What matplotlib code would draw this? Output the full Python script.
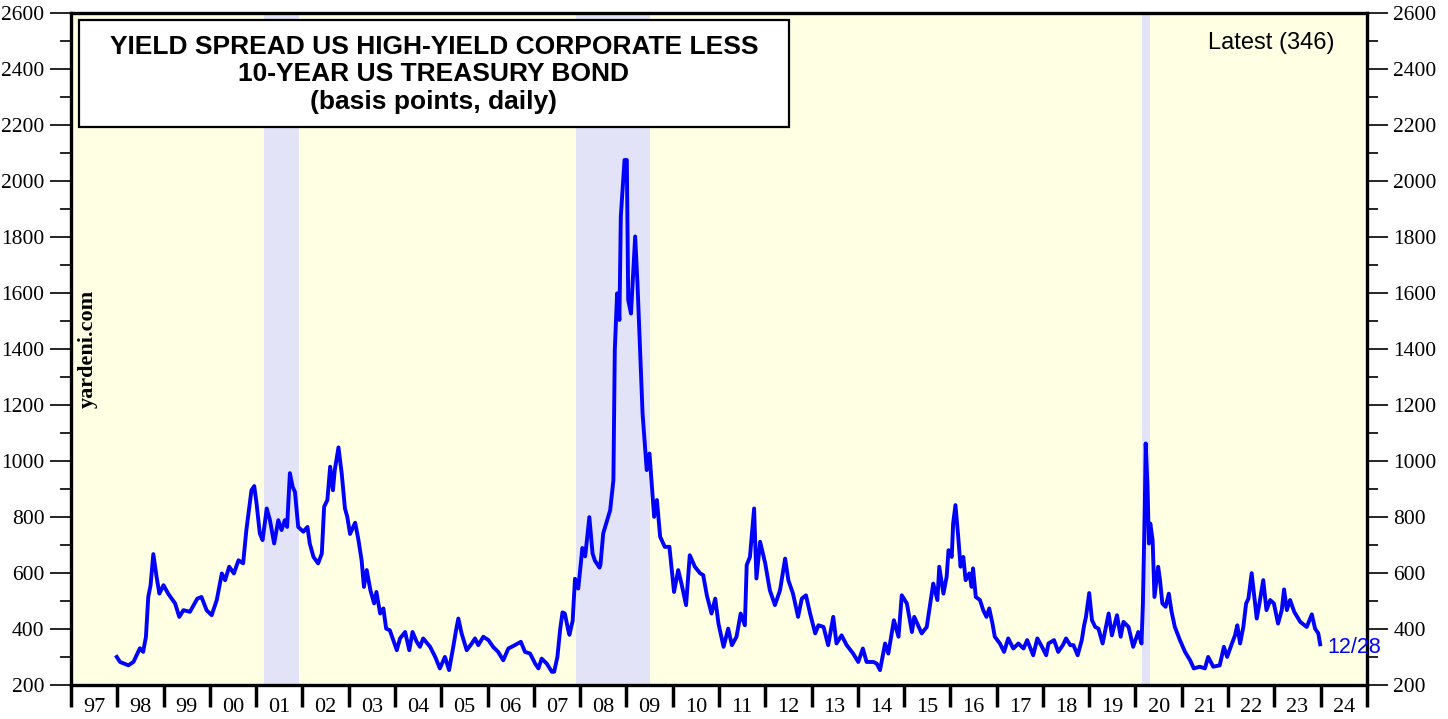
import numpy as np
import matplotlib
matplotlib.use("Agg")
import matplotlib.pyplot as plt
from matplotlib.patches import Rectangle
from matplotlib.ticker import MultipleLocator, FixedLocator, NullFormatter

# spread values (decimal year, basis points)
yrs = [
    1997.99, 1998.06, 1998.24, 1998.35, 1998.49, 1998.56, 1998.62, 1998.67, 1998.72, 1998.78,
    1998.85, 1998.91, 1999.00, 1999.10, 1999.25, 1999.34, 1999.43, 1999.57, 1999.73, 1999.82,
    1999.93, 2000.04, 2000.15, 2000.26, 2000.33, 2000.42, 2000.52, 2000.62, 2000.72, 2000.79,
    2000.90, 2000.96, 2001.01, 2001.08, 2001.14, 2001.23, 2001.30, 2001.39, 2001.48, 2001.55,
    2001.62, 2001.67, 2001.73, 2001.79, 2001.84, 2001.91, 2002.02, 2002.11, 2002.16, 2002.24,
    2002.34, 2002.42, 2002.47, 2002.54, 2002.60, 2002.66, 2002.70, 2002.78, 2002.85, 2002.92,
    2002.97, 2003.03, 2003.14, 2003.21, 2003.28, 2003.33, 2003.39, 2003.47, 2003.55, 2003.60,
    2003.68, 2003.75, 2003.81, 2003.89, 2004.04, 2004.11, 2004.22, 2004.31, 2004.38, 2004.47,
    2004.54, 2004.61, 2004.76, 2004.87, 2004.97, 2005.08, 2005.17, 2005.26, 2005.32, 2005.37,
    2005.44, 2005.55, 2005.66, 2005.73, 2005.80, 2005.91, 2006.02, 2006.12, 2006.23, 2006.34,
    2006.45, 2006.59, 2006.72, 2006.81, 2006.92, 2007.03, 2007.10, 2007.17, 2007.28, 2007.39,
    2007.44, 2007.51, 2007.57, 2007.62, 2007.67, 2007.74, 2007.77, 2007.84, 2007.89, 2007.96,
    2008.05, 2008.11, 2008.20, 2008.27, 2008.32, 2008.42, 2008.44, 2008.50, 2008.65, 2008.72,
    2008.75, 2008.80, 2008.85, 2008.88, 2008.96, 2009.01, 2009.04, 2009.10, 2009.19, 2009.24,
    2009.29, 2009.35, 2009.44, 2009.50, 2009.60, 2009.66, 2009.73, 2009.83, 2009.93, 2010.03,
    2010.12, 2010.19, 2010.29, 2010.37, 2010.48, 2010.59, 2010.66, 2010.74, 2010.84, 2010.92,
    2010.99, 2011.10, 2011.20, 2011.28, 2011.38, 2011.47, 2011.56, 2011.60, 2011.67, 2011.76,
    2011.81, 2011.89, 2012.00, 2012.10, 2012.21, 2012.32, 2012.43, 2012.50, 2012.60, 2012.71,
    2012.79, 2012.88, 2012.97, 2013.08, 2013.15, 2013.26, 2013.36, 2013.47, 2013.54, 2013.65,
    2013.76, 2013.90, 2014.01, 2014.11, 2014.19, 2014.34, 2014.41, 2014.48, 2014.59, 2014.66,
    2014.78, 2014.88, 2014.95, 2015.06, 2015.17, 2015.22, 2015.38, 2015.49, 2015.63, 2015.72,
    2015.76, 2015.85, 2015.92, 2015.96, 2016.03, 2016.06, 2016.11, 2016.17, 2016.22, 2016.28,
    2016.33, 2016.41, 2016.46, 2016.49, 2016.55, 2016.64, 2016.71, 2016.78, 2016.84, 2016.91,
    2016.96, 2017.07, 2017.16, 2017.25, 2017.36, 2017.47, 2017.58, 2017.66, 2017.79, 2017.88,
    2017.98, 2018.07, 2018.12, 2018.24, 2018.33, 2018.43, 2018.50, 2018.59, 2018.66, 2018.75,
    2018.84, 2018.89, 2018.93, 2019.00, 2019.06, 2019.13, 2019.20, 2019.29, 2019.42, 2019.49,
    2019.60, 2019.68, 2019.74, 2019.85, 2019.90, 2019.95, 2020.06, 2020.13, 2020.16, 2020.20,
    2020.22, 2020.26, 2020.29, 2020.32, 2020.37, 2020.41, 2020.49, 2020.53, 2020.58, 2020.65,
    2020.72, 2020.78, 2020.85, 2020.96, 2021.07, 2021.18, 2021.26, 2021.39, 2021.50, 2021.57,
    2021.68, 2021.82, 2021.91, 2021.98, 2022.07, 2022.15, 2022.20, 2022.26, 2022.33, 2022.39,
    2022.44, 2022.51, 2022.56, 2022.62, 2022.69, 2022.76, 2022.83, 2022.91, 2022.99, 2023.08,
    2023.16, 2023.21, 2023.27, 2023.34, 2023.43, 2023.56, 2023.70, 2023.81, 2023.88, 2023.95,
    2023.99,
]
spread = [
    301, 283, 271, 283, 332, 319, 373, 515, 557, 668,
    587, 527, 557, 527, 492, 444, 468, 462, 509, 515,
    468, 450, 504, 599, 575, 623, 599, 646, 635, 754,
    896, 911, 849, 742, 718, 831, 789, 706, 789, 754,
    789, 765, 957, 908, 890, 765, 748, 765, 706, 658,
    635, 670, 837, 861, 980, 896, 968, 1049, 956, 831,
    801, 740, 780, 720, 646, 551, 611, 539, 492, 533,
    456, 474, 402, 396, 325, 367, 390, 325, 390, 355,
    337, 367, 337, 301, 260, 301, 254, 337, 396, 438,
    385, 325, 349, 367, 343, 373, 361, 337, 319, 289,
    331, 343, 355, 319, 313, 277, 260, 295, 277, 248,
    248, 301, 400, 460, 456, 400, 380, 430, 580, 545,
    690, 660, 800, 670, 645, 620, 630, 742, 825, 932,
    1396, 1599, 1504, 1873, 2075, 2075, 1575, 1527, 1802, 1635,
    1420, 1170, 968, 1027, 801, 861, 730, 694, 694, 533,
    611, 563, 486, 664, 623, 600, 593, 520, 456, 509,
    420, 337, 402, 343, 373, 456, 414, 629, 658, 831,
    581, 712, 635, 539, 486, 539, 652, 575, 527, 444,
    509, 521, 456, 385, 414, 408, 343, 444, 349, 378,
    343, 313, 283, 331, 283, 283, 277, 254, 349, 313,
    432, 373, 521, 492, 390, 444, 385, 408, 563, 504,
    623, 527, 587, 682, 658, 777, 843, 730, 623, 658,
    575, 599, 551, 617, 515, 504, 468, 444, 474, 420,
    373, 349, 319, 367, 331, 349, 331, 361, 307, 367,
    337, 307, 349, 361, 319, 343, 367, 343, 343, 307,
    361, 414, 444, 529, 432, 408, 402, 349, 456, 378,
    450, 373, 426, 408, 373, 337, 390, 349, 492, 825,
    1063, 908, 706, 777, 718, 515, 623, 575, 492, 480,
    527, 462, 408, 361, 319, 289, 260, 266, 260, 301,
    266, 271, 337, 301, 343, 378, 414, 349, 408, 492,
    509, 600, 527, 438, 504, 575, 468, 504, 492, 420,
    468, 542, 468, 504, 462, 426, 408, 453, 402, 385,
    346,
]

# recession periods (shaded)
recessions = [(2001.17, 2001.92), (2007.92, 2009.50), (2020.15, 2020.31)]

year_labels = ["%02d" % (y % 100) for y in range(1997, 2025)]
latest_date = "12/28"

fig = plt.figure(figsize=(14.48, 7.19), dpi=100)
ax = fig.add_axes([0.049, 0.047, 0.895, 0.935])
ax.set_facecolor("#FFFFE3")

for a, b in recessions:
    ax.axvspan(a, b, color="#E3E3F8", lw=0, zorder=0)

ax.plot(yrs, spread, color="#0000FF", lw=2.8, solid_joinstyle="round", zorder=3)

ax.set_xlim(1997, 2025)
ax.set_ylim(200, 2600)

# y axis: labels on both sides, minor ticks every 100
ax.yaxis.set_major_locator(MultipleLocator(200))
ax.yaxis.set_minor_locator(MultipleLocator(100))
ax.tick_params(axis="y", which="both", direction="out", left=True, right=True,
               labelleft=True, labelright=True, width=1.2, labelsize=15.5, pad=4)
ax.tick_params(axis="y", which="major", length=15)
ax.tick_params(axis="y", which="minor", length=8)

# x axis: ticks at year boundaries, labels at mid-year
ax.xaxis.set_major_locator(FixedLocator(np.arange(1997, 2026)))
ax.xaxis.set_major_formatter(NullFormatter())
ax.xaxis.set_minor_locator(FixedLocator(np.arange(1997, 2025) + 0.5))
ax.set_xticklabels(year_labels, minor=True)
ax.tick_params(axis="x", which="major", direction="out", length=16, width=2.5)
ax.tick_params(axis="x", which="minor", length=0, labelsize=16, pad=9)

for lab in ax.get_xticklabels(minor=True):
    lab.set_fontfamily("Liberation Serif")
for lab in ax.yaxis.get_ticklabels(which="both"):
    lab.set_fontfamily("Liberation Serif")

for s in ax.spines.values():
    s.set_linewidth(2.4)

# title box
ax.add_patch(Rectangle((0.0062, 0.830), 0.548, 0.1596, transform=ax.transAxes,
                       facecolor="white", edgecolor="black", lw=1.6, zorder=5))
title_lines = ["YIELD SPREAD US HIGH-YIELD CORPORATE LESS",
               "10-YEAR US TREASURY BOND",
               "(basis points, daily)"]
for i, t in enumerate(title_lines):
    ax.text(0.280, 0.950 - i * 0.0410, t, transform=ax.transAxes, ha="center", va="center",
            fontsize=19, fontweight="bold", family="Liberation Sans", zorder=6)

ax.text(0.975, 0.955, "Latest (%d)" % spread[-1], transform=ax.transAxes, ha="right",
        va="center", fontsize=17, family="Liberation Sans")

ax.annotate(latest_date, xy=(yrs[-1], spread[-1]), xytext=(5, -2), textcoords="offset points",
            ha="left", va="center", color="#0000FF", fontsize=15.5, family="Liberation Sans",
            annotation_clip=False)

ax.text(0.013, 0.50, "yardeni.com", transform=ax.transAxes, rotation=90, ha="center",
        va="center", fontsize=16, fontweight="bold", family="Liberation Serif")

fig.savefig("out.png", dpi=100)
